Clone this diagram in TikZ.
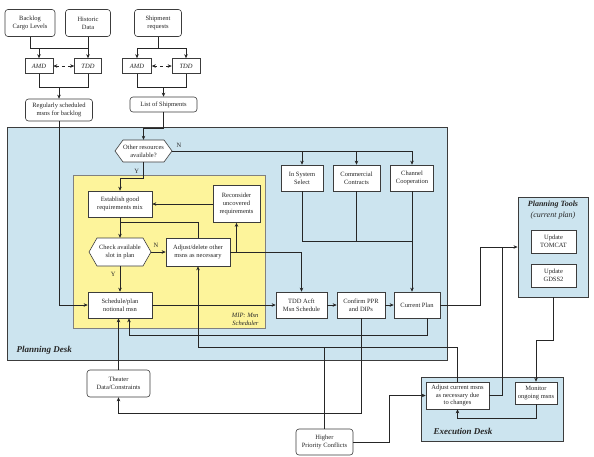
\documentclass[tikz,border=0pt]{standalone}
\usepackage{fontspec}
\setmainfont{Liberation Serif}
\usetikzlibrary{arrows.meta,calc}
\definecolor{deskblue}{RGB}{204,228,239}
\definecolor{mipyellow}{RGB}{253,244,155}
\definecolor{edgegray}{RGB}{60,60,60}
\newcommand{\myhex}[4]{\draw[hexst] ({#1-#3/2},#2) -- ({#1-#3/2+8},{#2-#4/2}) -- ({#1+#3/2-8},{#2-#4/2}) -- ({#1+#3/2},#2) -- ({#1+#3/2-8},{#2+#4/2}) -- ({#1-#3/2+8},{#2+#4/2}) -- cycle;}
\begin{document}
\begin{tikzpicture}[x=1pt,y=-1pt,
  every node/.style={font=\fontsize{6.5}{7.8}\selectfont, text=black!85},
  box/.style={draw=edgegray, fill=white, line width=0.6pt, align=center, inner sep=1pt},
  rbox/.style={box, rounded corners=3pt},
  hexnode/.style={align=center, inner sep=0pt},
  hexst/.style={draw=edgegray, fill=white, line width=0.6pt},
  conn/.style={line width=0.55pt, draw=black!85},
  arr/.style={conn, -{Stealth[length=4pt,width=3.5pt]}},
  darr/.style={conn, dashed, {Stealth[length=4pt,width=3.5pt]}-{Stealth[length=4pt,width=3.5pt]}},
  desk/.style={draw=edgegray, line width=0.9pt, fill=deskblue},
  lbl/.style={font=\fontsize{6.5}{7}\selectfont},
  title/.style={font=\fontsize{9}{10}\selectfont\bfseries\itshape}]
\useasboundingbox (0,0) rectangle (594,456);
\fill[white] (0,0) rectangle (594,456);
% containers
\draw[desk] (7,127) rectangle (447,360);
\draw[draw=gray, line width=0.7pt, fill=mipyellow] (73,175) rectangle (265,328);
\node[desk, minimum width=70pt, minimum height=100pt, inner sep=0pt] (ptl) at (553,247) {};
\draw[desk] (421,377) rectangle (563,441);
% titles
\node[title, anchor=west] (pdl) at (13,350) {Planning Desk};
\node[title, anchor=west] (edl) at (430,431) {Execution Desk};
\node[font=\fontsize{8}{9}\selectfont\bfseries\itshape] (ptt) at (553,205) {Planning Tools};
\node[font=\fontsize{8}{9}\selectfont\itshape] (ptc) at (553,216) {(current plan)};
\node[font=\fontsize{6.5}{8}\selectfont\itshape, align=right, anchor=east] (mip) at (262,319) {MIP: Msn\\Scheduler};
% hexagons
\myhex{143.5}{151}{57}{22}
\myhex{120}{252}{62}{28}
\node[hexnode, minimum width=57pt, minimum height=22pt] (oth) at (143.5,151) {Other resources\\available?};
\node[hexnode, minimum width=62pt, minimum height=28pt] (chk) at (120,252) {Check available\\slot in plan};
% top inputs
\node[rbox, minimum width=50pt, minimum height=27pt] (bcl) at (30,23) {Backlog\\Cargo Levels};
\node[rbox, minimum width=45pt, minimum height=27pt] (hist) at (88,23) {Historic\\Data};
\node[rbox, minimum width=47pt, minimum height=27pt] (shp) at (158,23) {Shipment\\requests};
\node[box, minimum width=28pt, minimum height=15pt, font=\fontsize{6.5}{7.8}\selectfont\itshape] (amdA) at (39,66) {AMD};
\node[box, minimum width=27pt, minimum height=15pt, font=\fontsize{6.5}{7.8}\selectfont\itshape] (tddA) at (88,66) {TDD};
\node[box, minimum width=29pt, minimum height=15pt, font=\fontsize{6.5}{7.8}\selectfont\itshape] (amdB) at (137,66) {AMD};
\node[box, minimum width=28pt, minimum height=15pt, font=\fontsize{6.5}{7.8}\selectfont\itshape] (tddB) at (186,66) {TDD};
\node[rbox, minimum width=67pt, minimum height=22pt] (rsm) at (59,110) {Regularly scheduled\\msns for backlog};
\node[rbox, minimum width=67pt, minimum height=15pt] (los) at (163.5,104.5) {List of Shipments};
% planning desk nodes
\node[box, minimum width=42pt, minimum height=26pt] (iss) at (302,178) {In System\\Select};
\node[box, minimum width=47pt, minimum height=26pt] (com) at (356.5,178) {Commercial\\Contracts};
\node[box, minimum width=43pt, minimum height=26pt] (chc) at (412,178) {Channel\\Cooperation};
\node[box, minimum width=64pt, minimum height=26pt] (est) at (120,204) {Establish good\\requirements mix};
\node[box, minimum width=47pt, minimum height=37pt] (rec) at (236.5,204) {Reconsider\\uncovered\\requirements};
\node[box, minimum width=64pt, minimum height=28pt] (adj) at (198,252) {Adjust/delete other\\msns as necessary};
\node[box, minimum width=64pt, minimum height=26pt] (sch) at (120,305) {Schedule/plan\\notional msn};
\node[box, minimum width=51pt, minimum height=26pt] (tdd) at (301.5,305) {TDD Acft\\Msn Schedule};
\node[box, minimum width=48pt, minimum height=26pt] (cnf) at (361,305) {Confirm PPR\\and DIPs};
\node[box, minimum width=46pt, minimum height=26pt] (cur) at (417,305) {Current Plan};
% planning tools
\node[box, minimum width=45pt, minimum height=23pt] (tom) at (553.5,241.5) {Update\\TOMCAT};
\node[box, minimum width=45pt, minimum height=23pt] (gds) at (553.5,275.5) {Update\\GDSS2};
% bottom
\node[rbox, minimum width=63pt, minimum height=27pt] (thr) at (118.5,383.5) {Theater\\Data/Constraints};
\node[rbox, minimum width=57pt, minimum height=26pt] (hpc) at (324.5,442) {Higher\\Priority Conflicts};
\node[box, minimum width=63pt, minimum height=27pt] (acm) at (457.5,395.5) {Adjust current msns\\as necessary due\\to changes};
\node[box, minimum width=42pt, minimum height=22pt] (mon) at (536,393) {Monitor\\ongoing msns};
% connectors: top left
\draw[conn] (bcl.south) |- (hist.south |- 0,48);
\draw[arr] (hist.south) -- (tddA.north);
\draw[arr] (amdA.north |- 0,48) -- (amdA.north);
\draw[darr] (amdA.east) -- (tddA.west);
\draw[conn] (amdA.south) |- (tddA.south |- 0,87) -- (tddA.south);
\draw[arr] (rsm.north |- 0,87) -- (rsm.north);
% top right
\draw[conn] (shp.south) -- (shp.south |- 0,48);
\draw[arr] (shp.south |- 0,48) -| (amdB.north);
\draw[arr] (shp.south |- 0,48) -| (tddB.north);
\draw[darr] (amdB.east) -- (tddB.west);
\draw[conn] (amdB.south) |- (tddB.south |- 0,87) -- (tddB.south);
\draw[arr] (los.north |- 0,87) -- (los.north);
\draw[arr] (los.south) -- (los.south |- 0,128) -| (oth.north);
\draw[arr] (rsm.south) |- (sch.west);
% other resources
\draw[arr] (oth.east) -| (chc.north);
\draw[arr] (iss.north |- oth.east) -- (iss.north);
\draw[arr] (com.north |- oth.east) -- (com.north);
\node[lbl, anchor=south west] (lN1) at (173,151) {N};
\draw[arr] (oth.south) -- (oth.south |- 0,178) -| (est.north);
\node[lbl, anchor=east] (lY1) at (142.5,171) {Y};
% scheduler
\draw[arr] (rec.west) -- (est.east);
\draw[arr] (est.south) -- (chk.north);
\draw[conn] (est.south |- 0,222) -| (adj.north);
\draw[arr] (chk.east) -- (adj.west);
\node[lbl, anchor=south] (lN2) at (156,251) {N};
\draw[arr] (chk.south) -- (sch.north);
\node[lbl, anchor=east] (lY2) at (119,274) {Y};
\draw[arr] (adj.east) -| (tdd.north);
\draw[arr] (rec.south |- adj.east) -- (rec.south);
% resource lines
\draw[conn] (iss.south) |- (chc.south |- 0,241);
\draw[conn] (com.south) -- (com.south |- 0,241);
\draw[arr] (chc.south) -- (chc.south |- cur.north);
% main chain
\draw[arr] (sch.east) -- (tdd.west);
\draw[arr] (tdd.east) -- (cnf.west);
\draw[arr] (cnf.east) -- (cur.west);
% feedback lines
\draw[arr] ($(cur.south)+(10,0)$) -- ($(cur.south)+(10,17)$) -| ($(sch.south)+(9,0)$);
\draw[arr] (cnf.south) -- (cnf.south |- 0,413) -| (thr.south);
\draw[arr] (thr.north) -- (thr.north |- sch.south);
\draw[arr] (acm.north) -- (acm.north |- 0,347) -| (adj.south);
\draw[conn] (hpc.north) -- (hpc.north |- 0,347);
\draw[arr] (hpc.east) -- ++(36,0) |- (acm.west);
% to planning tools and execution
\draw[arr] (cur.east) -- ++(40,0) |- (ptl.west);
\draw[conn] (acm.east) -| ($(ptl.west)+(-15,0)$);
\draw[arr] (ptl.south) -- ++(0,43) -| (mon.north);
\draw[arr] (mon.south) -- ++(0,14) -| (acm.south);
\end{tikzpicture}
\end{document}
